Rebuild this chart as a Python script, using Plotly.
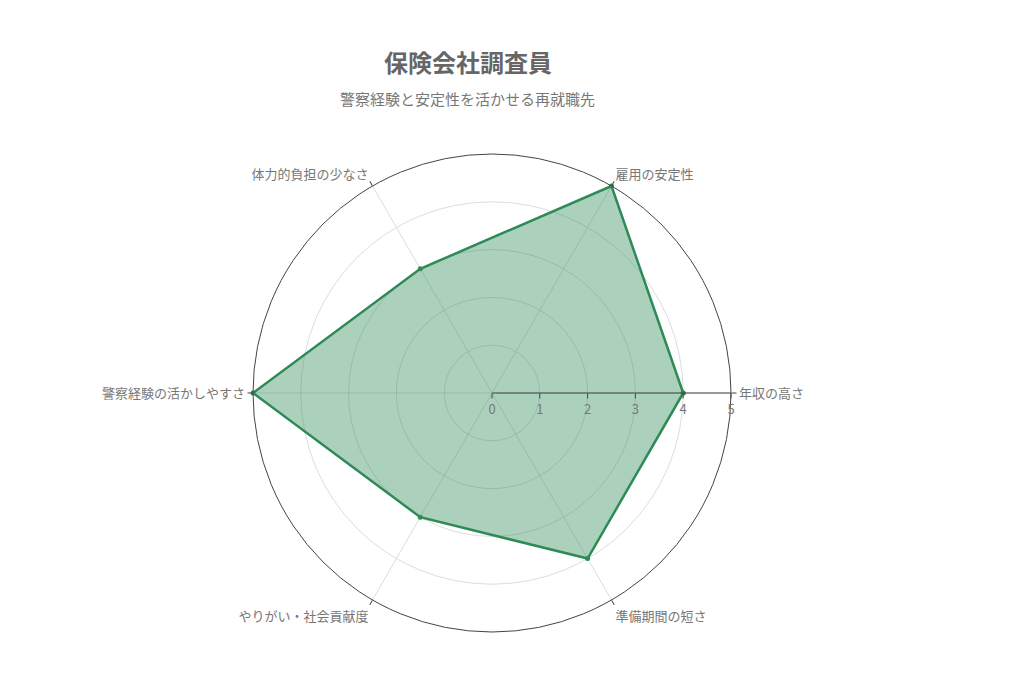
import plotly.graph_objects as go

categories = ["年収の高さ", "雇用の安定性", "体力的負担の少なさ", "警察経験の活かしやすさ", "やりがい・社会貢献度", "準備期間の短さ"]
values = [4, 5, 3, 5, 3, 4]
title_text = "保険会社調査員"
subtitle_text = "警察経験と安定性を活かせる再就職先"

FONT = "Noto Sans CJK JP"
fig = go.Figure()
fig.add_trace(go.Scatterpolar(
    r=values + values[:1],
    theta=categories + categories[:1],
    mode="lines+markers",
    fill="toself",
    fillcolor="rgba(46,139,87,0.4)",
    line=dict(color="#2e8b57", width=2.5),
    marker=dict(color="#2e8b57", size=5),
    showlegend=False,
))

fig.update_layout(
    width=1024, height=683,
    paper_bgcolor="white",
    font=dict(family=FONT, color="#777", size=13),
    margin=dict(t=146, b=59, l=52, r=108),
    polar=dict(
        bgcolor="white",
        angularaxis=dict(
            direction="counterclockwise", rotation=0,
            showline=True, linecolor="#444", linewidth=1,
            gridcolor="#ddd", ticks="outside", ticklen=5, tickcolor="#444",
            tickfont=dict(size=13, color="#777"),
        ),
        radialaxis=dict(
            range=[0, 5], tickvals=[0, 1, 2, 3, 4, 5],
            showline=True, linecolor="#444", linewidth=1,
            gridcolor="#ddd", ticks="outside", ticklen=5, tickcolor="#444",
            tickfont=dict(size=13, color="#777"), angle=0,
        ),
    ),
    annotations=[
        dict(text="<b>" + title_text + "</b>", x=0.4722, y=1.193, xref="paper", yref="paper",
             xanchor="center", yanchor="middle",
             showarrow=False, font=dict(size=24, color="#666", family=FONT)),
        dict(text=subtitle_text, x=0.4722, y=1.117, xref="paper", yref="paper",
             xanchor="center", yanchor="middle",
             showarrow=False, font=dict(size=15, color="#777", family=FONT)),
    ],
)
fig.write_html("out.html")
